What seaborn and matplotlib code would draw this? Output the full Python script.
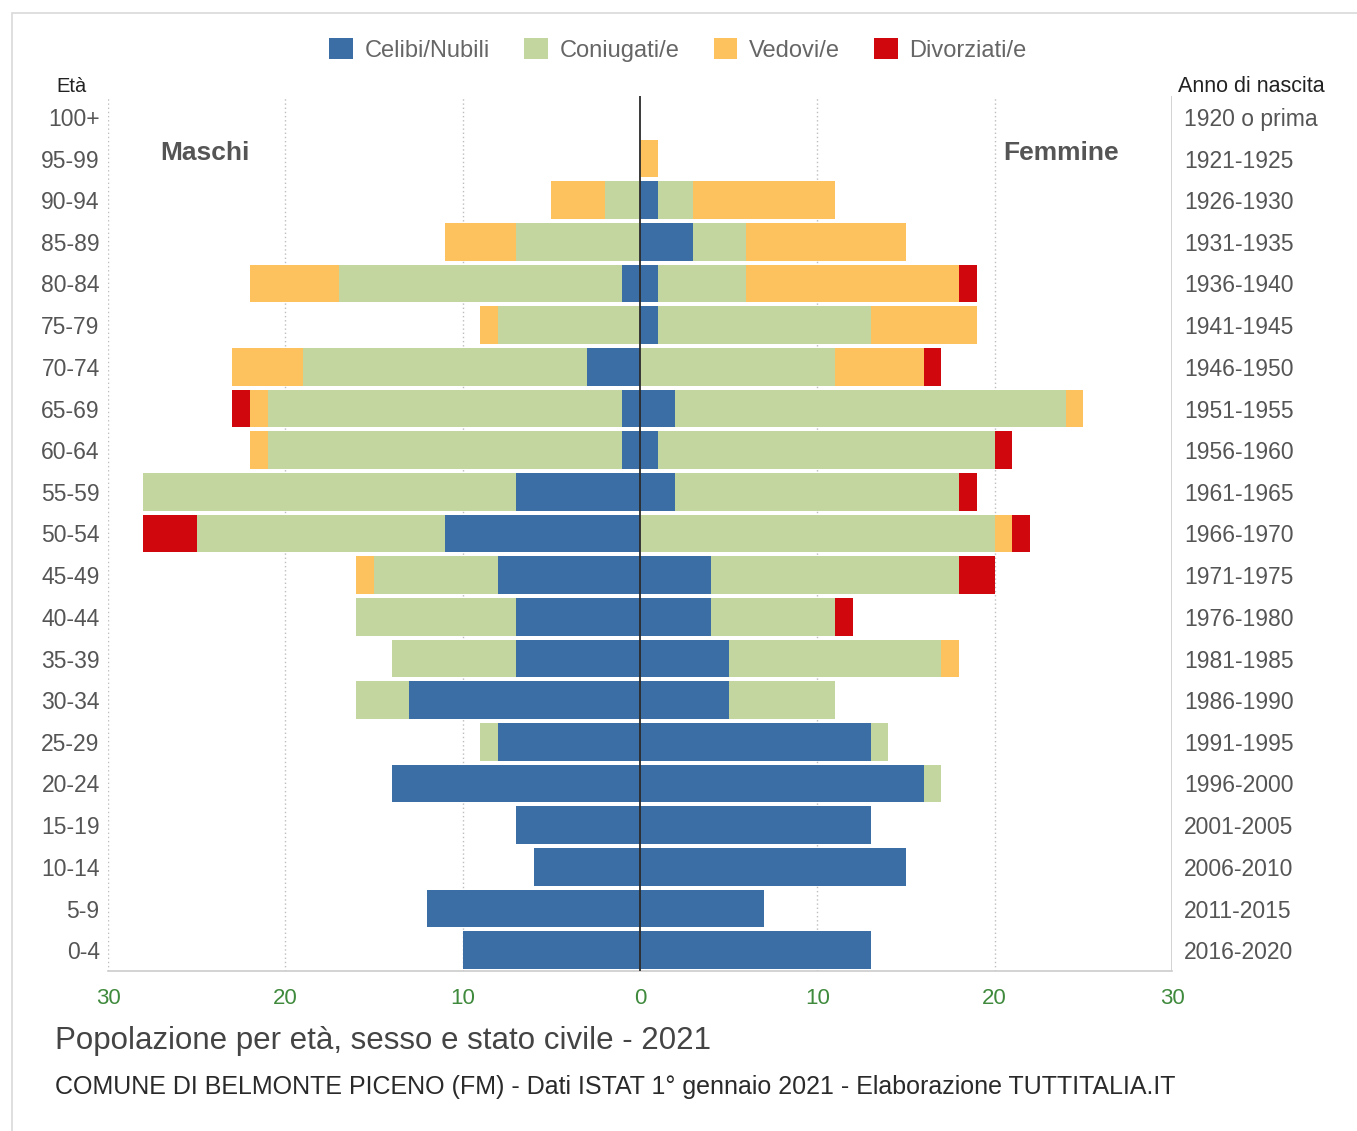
import numpy as np
import matplotlib
matplotlib.use("Agg")
import matplotlib.pyplot as plt
import seaborn as sns
from matplotlib.patches import Rectangle, Patch

# Age classes (top to bottom) and matching birth-year ranges
ages = ["100+", "95-99", "90-94", "85-89", "80-84", "75-79", "70-74", "65-69",
        "60-64", "55-59", "50-54", "45-49", "40-44", "35-39", "30-34", "25-29",
        "20-24", "15-19", "10-14", "5-9", "0-4"]
births = ["1920 o prima", "1921-1925", "1926-1930", "1931-1935", "1936-1940",
          "1941-1945", "1946-1950", "1951-1955", "1956-1960", "1961-1965",
          "1966-1970", "1971-1975", "1976-1980", "1981-1985", "1986-1990",
          "1991-1995", "1996-2000", "2001-2005", "2006-2010", "2011-2015",
          "2016-2020"]

status = ["Celibi/Nubili", "Coniugati/e", "Vedovi/e", "Divorziati/e"]

# Males
m_celibi = [0, 0, 0, 0, 1, 0, 3, 1, 1, 7, 11, 8, 7, 7, 13, 8, 14, 7, 6, 12, 10]
m_coniugati = [0, 0, 2, 7, 16, 8, 16, 20, 20, 21, 14, 7, 9, 7, 3, 1, 0, 0, 0, 0, 0]
m_vedovi = [0, 0, 3, 4, 5, 1, 4, 1, 1, 0, 0, 1, 0, 0, 0, 0, 0, 0, 0, 0, 0]
m_divorziati = [0, 0, 0, 0, 0, 0, 0, 1, 0, 0, 3, 0, 0, 0, 0, 0, 0, 0, 0, 0, 0]

# Females
f_nubili = [0, 0, 1, 3, 1, 1, 0, 2, 1, 2, 0, 4, 4, 5, 5, 13, 16, 13, 15, 7, 13]
f_coniugate = [0, 0, 2, 3, 5, 12, 11, 22, 19, 16, 20, 14, 7, 12, 6, 1, 1, 0, 0, 0, 0]
f_vedove = [0, 1, 8, 9, 12, 6, 5, 1, 0, 0, 1, 0, 0, 1, 0, 0, 0, 0, 0, 0, 0]
f_divorziate = [0, 0, 0, 0, 1, 0, 1, 0, 1, 1, 1, 2, 1, 0, 0, 0, 0, 0, 0, 0, 0]

palette = ["#3b6ea5", "#c3d69f", "#fdc25e", "#d0070d"]

sns.set_theme(style="white")
plt.rcParams["font.family"] = ["Liberation Sans", "DejaVu Sans"]

W, H = 1357, 1131
fig = plt.figure(figsize=(W / 100, H / 100), dpi=100)
fig.patch.set_facecolor("white")

# light frame around the whole graphic
fig.patches.append(Rectangle((12 / W, -0.01), 2, (H - 13) / H + 0.01,
                             transform=fig.transFigure, fill=False,
                             edgecolor="#d9d9d9", linewidth=1.2))

ax = fig.add_axes([108 / W, 1 - 971 / H, (1172 - 108) / W, 875 / H])


def draw_side(series, sign):
    cum = np.cumsum(np.array(series, dtype=float), axis=0)
    # outermost layer first, inner layers painted over it
    for k in range(len(series) - 1, -1, -1):
        sns.barplot(x=sign * cum[k], y=ages, order=ages, orient="h",
                    color=palette[k], saturation=1, width=0.9,
                    linewidth=0, errorbar=None, ax=ax, zorder=2)


draw_side([m_celibi, m_coniugati, m_vedovi, m_divorziati], -1)
draw_side([f_nubili, f_coniugate, f_vedove, f_divorziate], 1)

ax.set_xlim(-30, 30)
ax.set_ylim(20.5, -0.5)
ax.set_xlabel("")
ax.set_ylabel("")

for s in ["top", "right", "left"]:
    ax.spines[s].set_visible(False)
ax.spines["bottom"].set_color("#cccccc")
ax.spines["bottom"].set_linewidth(1.2)

# grid lines
for v in [-20, -10, 10, 20]:
    ax.axvline(v, color="#bdbdbd", linestyle=(0, (1, 2)), linewidth=1, zorder=1)
ax.axvline(-30, color="#bdbdbd", linestyle=(0, (1, 2)), linewidth=1, zorder=1)
ax.axvline(30, color="#cccccc", linewidth=1.2, zorder=1)
ax.axvline(0, color="#2b2b2b", linewidth=1.3, zorder=5)

xt = [-30, -20, -10, 0, 10, 20, 30]
ax.set_xticks(xt)
ax.set_xticklabels([str(abs(v)) for v in xt])
ax.tick_params(axis="x", colors="#cccccc", length=6, width=1.2, pad=6,
               labelsize=16, labelcolor="#3f8a3c")

ax.set_yticks(range(len(ages)))
ax.set_yticklabels(ages)
ax.tick_params(axis="y", length=0, pad=6, labelsize=16.5, labelcolor="#555555")

ax2 = ax.twinx()
ax2.set_ylim(ax.get_ylim())
ax2.set_yticks(range(len(births)))
ax2.set_yticklabels(births)
ax2.tick_params(axis="y", length=0, pad=8.5, labelsize=16.5, labelcolor="#555555")
for s in ax2.spines.values():
    s.set_visible(False)


def fx(px):
    return px / W


def fy(py):
    return 1 - py / H


fig.text(fx(71), fy(86), "Età", ha="center", va="center", fontsize=14.5, color="#222222")
fig.text(fx(1251), fy(86), "Anno di nascita", ha="center", va="center",
         fontsize=15.5, color="#222222")
fig.text(fx(205), fy(153), "Maschi", ha="center", va="center", fontsize=19,
         fontweight="bold", color="#555555")
fig.text(fx(1061), fy(153), "Femmine", ha="center", va="center", fontsize=19,
         fontweight="bold", color="#555555")

handles = [Patch(facecolor=c, edgecolor="none") for c in palette]
fig.legend(handles, status, loc="center", bbox_to_anchor=(fx(678), fy(50)),
           ncol=4, frameon=False, fontsize=17, labelcolor="#666666",
           handlelength=1.0, handleheight=1.0, handletextpad=0.5,
           columnspacing=1.45)

fig.text(fx(55), fy(1041), "Popolazione per età, sesso e stato civile - 2021",
         ha="left", va="center", fontsize=22.5, color="#444444")
fig.text(fx(55), fy(1087),
         "COMUNE DI BELMONTE PICENO (FM) - Dati ISTAT 1° gennaio 2021 - Elaborazione TUTTITALIA.IT",
         ha="left", va="center", fontsize=18, color="#2a2a2a")

fig.savefig("out.png", dpi=100, facecolor="white")
